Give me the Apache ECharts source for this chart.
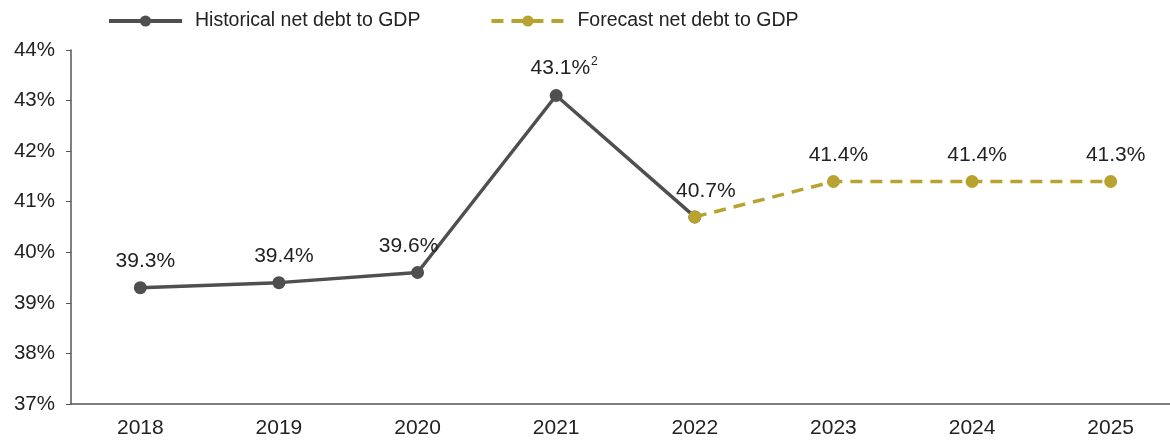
<!DOCTYPE html>
<html>
<head>
<meta charset="utf-8">
<script src="https://cdn.jsdelivr.net/npm/echarts@6/dist/echarts.min.js"></script>
<style>
html,body{margin:0;padding:0;background:#fff;}
#chart{width:1170px;height:440px;}
</style>
</head>
<body>
<div id="chart"></div>
<script>
// 数据
var years = ['2018', '2019', '2020', '2021', '2022', '2023', '2024', '2025'];
var historical = [39.3, 39.4, 39.6, 43.1, 40.7, null, null, null];
var forecast = [null, null, null, null, 40.7, 41.4, 41.4, 41.4];
var histLabels = ['39.3%', '39.4%', '39.6%', '{v|43.1%}{s|2}', '', '', '', ''];
var foreLabels = ['', '', '', '', '40.7%', '41.4%', '41.4%', '41.3%'];

var axisFont = '"Liberation Sans", Arial, sans-serif';
var grey = '#4f4f4f';
var gold = '#b8a230';

var chart = echarts.init(document.getElementById('chart'));

function labelFn(list){
	return function(p){ return list[p.dataIndex]; };
}
// 标签微调
function shiftLabel(p){
	var dx = 5;
	if (p.dataIndex === 2) dx = -9;
	if (p.dataIndex === 3) dx = 8;
	if (p.dataIndex === 4) dx = 11;
	return { dx: dx };
}

var option = {
	animation: false,
	legend: {
		top: 11,
		left: 107,
		padding: 0,
		itemWidth: 73,
		itemHeight: 14,
		itemGap: 69,
		lineStyle: { width: 4 },
		textStyle: {
			fontFamily: axisFont,
			fontSize: 19.5,
			color: '#222',
			padding: [0, 0, 0, 8]
		},
		data: ['Historical net debt to GDP', 'Forecast net debt to GDP']
	},
	grid: {
		left: 71,
		width: 1109,
		top: 50,
		bottom: 36,
		outerBoundsMode: 'none',
		containLabel: false
	},
	xAxis: {
		type: 'category',
		data: years,
		boundaryGap: true,
		axisLine: { lineStyle: { color: '#555', width: 1.5 } },
		axisTick: { alignWithLabel: true, length: 5, lineStyle: { color: '#555' } },
		axisLabel: {
			fontFamily: axisFont,
			fontSize: 21,
			color: '#222',
			margin: 14
		}
	},
	yAxis: {
		type: 'value',
		min: 37,
		max: 44,
		interval: 1,
		splitLine: { show: false },
		axisLine: { show: true, lineStyle: { color: '#555', width: 1.5 } },
		axisTick: { show: true, length: 5, lineStyle: { color: '#555' } },
		axisLabel: {
			fontFamily: axisFont,
			fontSize: 20.5,
			color: '#222',
			margin: 16,
			formatter: '{value}%'
		}
	},
	series: [
		{
			name: 'Historical net debt to GDP',
			type: 'line',
			data: historical,
			symbol: 'circle',
			symbolSize: 13,
			z: 2,
			lineStyle: { color: grey, width: 3.5 },
			itemStyle: { color: grey },
			label: {
				show: true,
				position: 'top',
				distance: 9,
				fontFamily: axisFont,
				fontSize: 21,
				color: '#222',
				formatter: labelFn(histLabels),
				rich: {
					v: { fontFamily: axisFont, fontSize: 21, color: '#222' },
					s: { fontFamily: axisFont, fontSize: 12, color: '#222', verticalAlign: 'top', padding: [0, 0, 12, 1] }
				}
			},
			labelLayout: shiftLabel
		},
		{
			name: 'Forecast net debt to GDP',
			type: 'line',
			data: forecast,
			symbol: 'circle',
			symbolSize: 13,
			z: 3,
			lineStyle: { color: gold, width: 3.5, type: [12, 8] },
			itemStyle: { color: gold },
			label: {
				show: true,
				position: 'top',
				distance: 9,
				fontFamily: axisFont,
				fontSize: 21,
				color: '#222',
				formatter: labelFn(foreLabels)
			},
			labelLayout: shiftLabel
		}
	]
};
chart.setOption(option);
</script>
</body>
</html>
